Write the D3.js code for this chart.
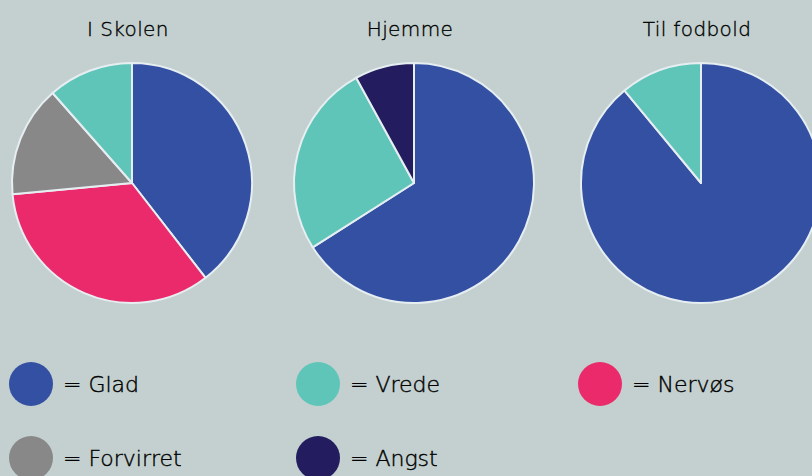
<!DOCTYPE html>
<html>
<head>
<meta charset="utf-8">
<script src="https://cdn.jsdelivr.net/npm/d3@7"></script>
<style>
  body { margin: 0; background: #c3d0cf; }
  svg { display: block; font-family: "DejaVu Sans", sans-serif; font-weight: 200; }
</style>
</head>
<body>
<div id="chart"></div>
<script>
// Feelings in three places (percent)
const categories = ["Glad", "Vrede", "Nervøs", "Forvirret", "Angst"];
const categoryColors = ["#3350a3", "#5fc5b8", "#eb2a6b", "#888888", "#231d5f"];
const pieTitles = ["I Skolen", "Hjemme", "Til fodbold"];

const skolenCats = ["Glad", "Nervøs", "Forvirret", "Vrede"];
const skolenVals = [39.5, 34, 15, 11.5];
const hjemmeCats = ["Glad", "Vrede", "Angst"];
const hjemmeVals = [66, 26, 8];
const fodboldCats = ["Glad", "Vrede"];
const fodboldVals = [89, 11];

const width = 812, height = 476;
const radius = 120;
const pieCenters = [[132, 183], [414, 183], [701, 183]];

const color = d3.scaleOrdinal().domain(categories).range(categoryColors);

const svg = d3.select("#chart").append("svg")
  .attr("width", width)
  .attr("height", height);

const pies = [
  { cats: skolenCats, vals: skolenVals },
  { cats: hjemmeCats, vals: hjemmeVals },
  { cats: fodboldCats, vals: fodboldVals }
];

const pie = d3.pie().sort(null).value(d => d[1]);
const arc = d3.arc().innerRadius(0).outerRadius(radius);

pies.forEach((p, i) => {
  const g = svg.append("g")
    .attr("transform", `translate(${pieCenters[i][0]},${pieCenters[i][1]})`);

  const data_ready = pie(p.cats.map((c, j) => [c, p.vals[j]]));

  g.selectAll("path")
    .data(data_ready)
    .enter()
    .append("path")
      .attr("d", arc)
      .attr("fill", d => color(d.data[0]))
      .attr("stroke", "#e6eef2")
      .attr("stroke-width", 2)
      .attr("stroke-linejoin", "round");

  // title above the pie
  svg.append("text")
    .attr("x", pieCenters[i][0] - 4)
    .attr("y", 36)
    .attr("text-anchor", "middle")
    .style("font-size", "20px")
    .style("letter-spacing", "0.4px")
    .style("fill", "#000")
    .style("stroke", "#000")
    .style("stroke-width", "0.35px")
    .text(pieTitles[i]);
});

// Legend: 3 columns, 2 rows
const legendCols = [31, 318, 600];
const legendRows = [384, 458];

const legend = svg.selectAll("g.legend")
  .data(categories)
  .enter()
  .append("g")
    .attr("class", "legend")
    .attr("transform", (d, i) => `translate(${legendCols[i % 3]},${legendRows[Math.floor(i / 3)]})`);

legend.append("circle")
  .attr("r", 22)
  .attr("fill", d => color(d));

legend.append("text")
  .attr("x", 32)
  .attr("y", 8)
  .style("font-size", "22px")
  .style("fill", "#000")
  .style("stroke", "#000")
  .style("stroke-width", "0.4px")
  .text(d => "= " + d);
</script>
</body>
</html>
